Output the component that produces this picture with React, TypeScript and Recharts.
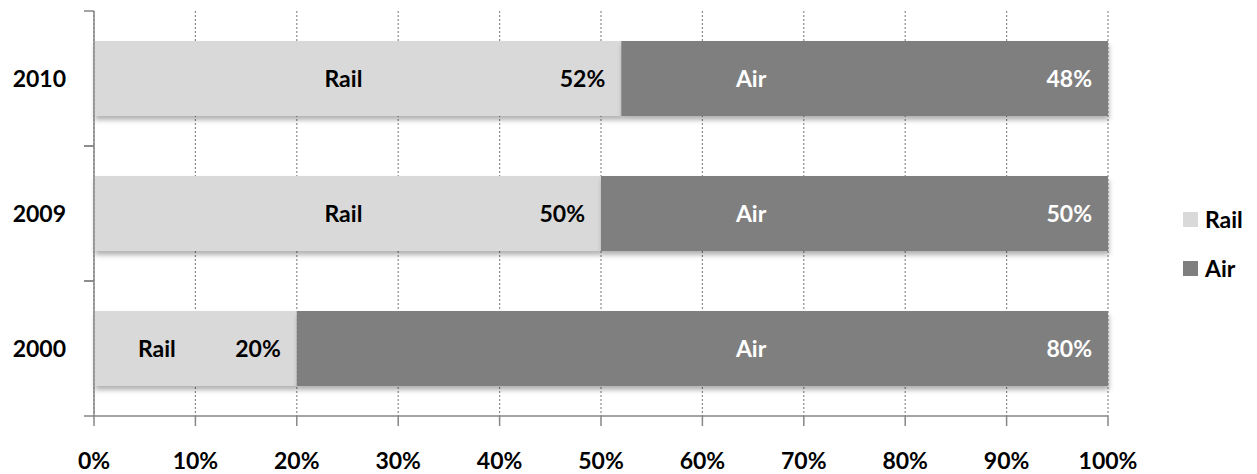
import React from 'react'
import { BarChart, Bar, XAxis, YAxis, CartesianGrid, LabelList } from 'recharts'

const years = ['2010', '2009', '2000']
const railShare = [52, 50, 20]
const airShare = [48, 50, 80]
const seriesNames = ['Rail', 'Air']
const seriesColors = ['#d9d9d9', '#7f7f7f']
const percentTicks = [0, 10, 20, 30, 40, 50, 60, 70, 80, 90, 100]

const data = years.map((year, i) => ({
  year,
  [seriesNames[0]]: railShare[i],
  [seriesNames[1]]: airShare[i],
}))

const W = 1257
const H = 474
const margin = { top: 11, right: 149, bottom: 0, left: 0 }
const Y_AXIS_W = 94
const X_AXIS_H = 58
const plotLeft = margin.left + Y_AXIS_W
const plotWidth = W - plotLeft - margin.right
const plotHeight = H - margin.top - X_AXIS_H
const band = plotHeight / years.length

const FONT = 'Lato, "Open Sans", sans-serif'
const AXIS_COLOR = '#868686'

function YearTick(props: any) {
  const { x, y, payload } = props
  const axisX = plotLeft
  return (
    <g>
      <line x1={axisX - 10} x2={axisX} y1={y - band / 2} y2={y - band / 2} stroke={AXIS_COLOR} strokeWidth={1.5} />
      <line x1={axisX - 10} x2={axisX} y1={y + band / 2} y2={y + band / 2} stroke={AXIS_COLOR} strokeWidth={1.5} />
      <text x={x} y={y + 8} textAnchor="end" fontFamily={FONT} fontWeight={700} fontSize={23} fill="#000">
        {payload.value}
      </text>
    </g>
  )
}

function ShadowBar(props: any) {
  const { x, y, width, height, fill } = props
  if (!width || !height) return null
  return (
    <g>
      <defs>
        <filter id="barShadow" x="-5%" y="-20%" width="110%" height="150%">
          <feDropShadow dx={1} dy={4} stdDeviation={2.5} floodColor="#000" floodOpacity={0.3} />
        </filter>
      </defs>
      <rect x={x} y={y} width={width} height={height} fill={fill} filter="url(#barShadow)" />
    </g>
  )
}

// value sits at the inner right end; series name at its own spot along the bar
function makeSegmentLabel(name: string, textFill: string, namePct: number) {
  return (props: any) => {
    const { x, y, width, height, value } = props
    const cy = y + height / 2 + 8
    let nameX = plotLeft + (namePct / 100) * plotWidth
    if (nameX > x + width * 0.6) nameX = x + width * 0.31
    return (
      <g fontFamily={FONT} fontWeight={700} fontSize={23} fill={textFill}>
        <text x={nameX} y={cy} textAnchor="middle">{name}</text>
        <text x={x + width - 16} y={cy} textAnchor="end">{`${value}%`}</text>
      </g>
    )
  }
}

export default function App() {
  return (
    <div style={{ position: 'absolute', left: 0, top: 0, width: W, height: H, background: '#fff' }}>
      <BarChart width={W} height={H} data={data} layout="vertical" margin={margin}>
        <CartesianGrid horizontal={false} stroke="#8c8c8c" strokeDasharray="2 2" strokeWidth={1.2} />
        <XAxis
          type="number"
          domain={[0, 100]}
          ticks={percentTicks}
          tickFormatter={(v: number) => `${v}%`}
          height={X_AXIS_H}
          tickSize={10}
          tickMargin={27}
          axisLine={{ stroke: AXIS_COLOR, strokeWidth: 1.5 }}
          tickLine={{ stroke: AXIS_COLOR, strokeWidth: 1.5 }}
          tick={{ fontFamily: FONT, fontWeight: 700, fontSize: 23, fill: '#000' }}
          interval={0}
        />
        <YAxis
          type="category"
          dataKey="year"
          width={Y_AXIS_W}
          tickLine={false}
          tickSize={0}
          tickMargin={28}
          axisLine={{ stroke: AXIS_COLOR, strokeWidth: 1.5 }}
          tick={<YearTick />}
        />
        <Bar dataKey={seriesNames[0]} stackId="mode" fill={seriesColors[0]} barSize={75} shape={<ShadowBar />} isAnimationActive={false}>
          <LabelList dataKey={seriesNames[0]} content={makeSegmentLabel(seriesNames[0], '#000', 24.6)} />
        </Bar>
        <Bar dataKey={seriesNames[1]} stackId="mode" fill={seriesColors[1]} barSize={75} shape={<ShadowBar />} isAnimationActive={false}>
          <LabelList dataKey={seriesNames[1]} content={makeSegmentLabel(seriesNames[1], '#fff', 64.8)} />
        </Bar>
      </BarChart>
      {seriesNames.map((name, i) => (
        <div
          key={name}
          style={{
            position: 'absolute',
            left: 1183,
            top: i === 0 ? 206 : 255,
            display: 'flex',
            alignItems: 'center',
            fontFamily: FONT,
            fontWeight: 700,
            fontSize: 23,
            color: '#000',
            lineHeight: '26px',
          }}
        >
          <span style={{ display: 'inline-block', width: 15, height: 15, background: seriesColors[i], marginRight: 7 }} />
          {name}
        </div>
      ))}
    </div>
  )
}
